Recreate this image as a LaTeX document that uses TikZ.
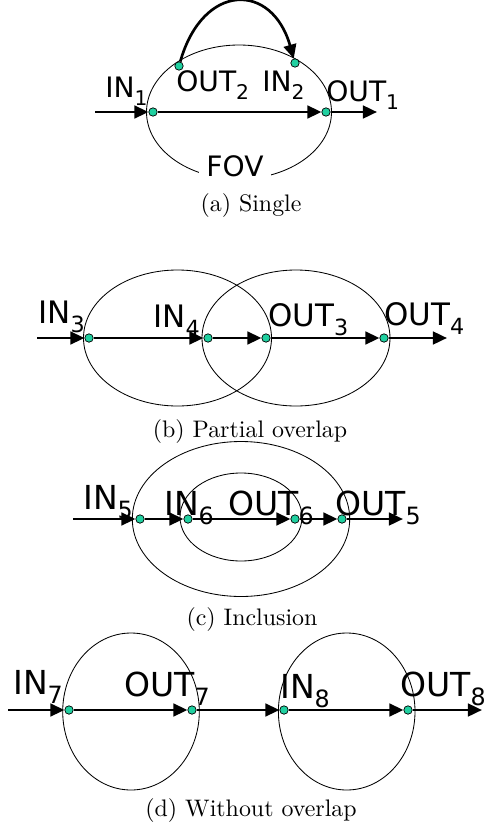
\documentclass[tikz,border=0pt]{standalone}
\usepackage{fontspec}
\usetikzlibrary{arrows.meta,positioning}
\newfontfamily\etqfont{DejaVu Sans}
\definecolor{cpunto}{HTML}{20D0A0}
\newcommand{\subind}[1]{\raisebox{-0.3em}{\scalebox{0.72}{#1}}}
\newcommand{\pietxt}[1]{\scalebox{1.7}{#1}}
\tikzset{
  punto/.style={circle,draw=black,line width=0.5pt,fill=cpunto,inner sep=0pt,minimum size=6pt},
  flecha/.style={-{Triangle[length=10pt,width=9pt]},draw=black,line width=1.9pt},
  campo/.style={draw=black,line width=0.6pt},
  etq/.style={anchor=base west,inner sep=0pt,font=\etqfont\fontsize{23.5}{26}\selectfont},
  etqa/.style={etq,font=\etqfont\fontsize{20}{23}\selectfont},
  etqb/.style={etq,font=\etqfont\fontsize{22}{25}\selectfont},
  pie/.style={anchor=base,font=\fontsize{10}{12}\selectfont,inner sep=0pt},
}

\begin{document}
\begin{tikzpicture}[x=0.025cm,y=-0.025cm]
\useasboundingbox (0,0) rectangle (490,829);

% (a) single
\draw[campo] (239,112) ellipse [x radius=92.5,y radius=67];
\coordinate (a0) at (95,112);
\coordinate (a9) at (377,112);
\node[punto] (i1) at (153,112) {};
\node[punto] (o1) at (326,112) {};
\node[punto] (o2) at (179,66) {};
\node[punto] (i2) at (295,63) {};
\foreach \u/\v in {a0/i1,i1/o1,o1/a9}{\draw[flecha] (\u) -- (\v);}
\draw[flecha] (o2) .. controls (203,-18) and (272,-18) .. (i2);
\node[etqa] (l1) at (105,97) {IN\subind{1}};
\node[etqa] (l2) at (176,91) {OUT\subind{2}};
\node[etqa] (l3) at (262,91) {IN\subind{2}};
\node[etqa] (l4) at (326,101) {OUT\subind{1}};
\node[etqa,anchor=base,fill=white,inner xsep=5pt,inner ysep=3.5pt] (fov) at (235,176) {FOV};
\node[pie] (pa) at (251,211) {\pietxt{(a) Single}};

% (b) partial overlap
\draw[campo] (177.5,338) ellipse [x radius=94,y radius=68];
\draw[campo] (296,338) ellipse [x radius=94,y radius=68];
\coordinate (b0) at (37,338);
\coordinate (b9) at (447,338);
\node[punto] (i3) at (89,338) {};
\node[punto] (i4) at (208,338) {};
\node[punto] (o3) at (266,338) {};
\node[punto] (o4) at (384,338) {};
\foreach \u/\v in {b0/i3,i3/i4,i4/o3,o3/o4,o4/b9}{\draw[flecha] (\u) -- (\v);}
\node[etqb] (l5) at (38,323) {IN\subind{3}};
\node[etqb] (l6) at (153,327) {IN\subind{4}};
\node[etqb] (l7) at (268,326) {OUT\subind{3}};
\node[etqb] (l8) at (384,325) {OUT\subind{4}};
\node[pie] (pb) at (250,437) {\pietxt{(b) Partial overlap}};

% (c) inclusion
\draw[campo] (241,519) ellipse [x radius=108.7,y radius=77.5];
\draw[campo] (241,517) ellipse [x radius=61,y radius=44];
\coordinate (c0) at (73,519);
\coordinate (c9) at (403,519);
\node[punto] (i5) at (140,519) {};
\node[punto] (i6) at (188,519) {};
\node[punto] (o6) at (295,519) {};
\node[punto] (o5) at (342,519) {};
\foreach \u/\v in {c0/i5,i5/i6,i6/o6,o6/o5,o5/c9}{\draw[flecha] (\u) -- (\v);}
\node[etq] (l9) at (83,509) {IN\subind{5}};
\node[etq] (l10) at (164,515) {IN\subind{6}};
\node[etq] (l11) at (228,515) {OUT\subind{6}};
\node[etq] (l12) at (335,515) {OUT\subind{5}};
\node[pie] (pc) at (252,625) {\pietxt{(c) Inclusion}};

% (d) without overlap
\draw[campo] (131,711.5) ellipse [x radius=68.3,y radius=78.5];
\draw[campo] (346.7,711.5) ellipse [x radius=68.3,y radius=78.5];
\coordinate (d0) at (8,710);
\coordinate (d9) at (482,710);
\node[punto] (i7) at (69,710) {};
\node[punto] (o7) at (192,710) {};
\node[punto] (i8) at (284,710) {};
\node[punto] (o8) at (408,710) {};
\foreach \u/\v in {d0/i7,i7/o7,o7/i8,i8/o8,o8/d9}{\draw[flecha] (\u) -- (\v);}
\node[etq] (l13) at (13,694) {IN\subind{7}};
\node[etq] (l14) at (124,696) {OUT\subind{7}};
\node[etq] (l15) at (280,698) {IN\subind{8}};
\node[etq] (l16) at (400,696) {OUT\subind{8}};
\node[pie] (pd) at (251,816) {\pietxt{(d) Without overlap}};

\end{tikzpicture}
\end{document}
